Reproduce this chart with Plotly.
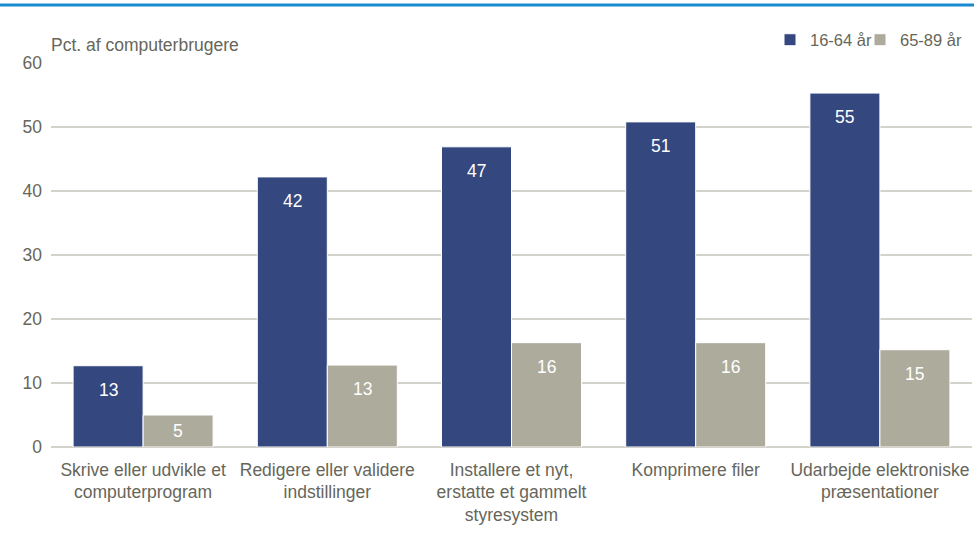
import plotly.graph_objects as go

categories = [
    "Skrive eller udvikle et<br>computerprogram",
    "Redigere eller validere<br>indstillinger",
    "Installere et nyt,<br>erstatte et gammelt<br>styresystem",
    "Komprimere filer",
    "Udarbejde elektroniske<br>præsentationer",
]
young = [12.7, 42.2, 46.9, 50.8, 55.3]
old = [5.0, 12.8, 16.3, 16.3, 15.2]
series_names = ["16-64 år", "65-89 år"]
colors = ["#34477E", "#ADAB9C"]
y_ticks = [0, 10, 20, 30, 40, 50, 60]

font_family = "Liberation Sans, Arial, sans-serif"
text_color = "#66665A"
FS = 17.5

L, R, T, B = 51, 2, 63, 93
W, H = 974, 540
ph = H - T - B
pw = W - L - R
px_per_unit = ph / 60.0
bar_px = pw / 5 * (1 - 0.24) / 2

legend_ids = ["legend", "legend2"]
legend_left_px = [770, 860]

fig = go.Figure()
annotations = []
for k, (name, vals, col) in enumerate(zip(series_names, [young, old], colors)):
    fig.add_trace(go.Bar(
        x=categories, y=vals, name=name, legend=legend_ids[k],
        marker=dict(color=col, line=dict(color="white", width=1)),
    ))
    for cat, v in zip(categories, vals):
        shift = min(24, v * px_per_unit / 2)
        annotations.append(dict(
            x=cat, y=v, xref="x", yref="y", text=f"{v:.0f}", showarrow=False,
            xshift=(-1 if k == 0 else 1) * bar_px / 2, yshift=-shift,
            xanchor="center", yanchor="middle",
            font=dict(color="white", size=FS, family=font_family)))

annotations.append(dict(text="Pct. af computerbrugere", xref="paper", yref="paper",
                        x=-2 / pw, y=(H - B - 45) / ph, xanchor="left", yanchor="middle",
                        showarrow=False, font=dict(size=FS, color=text_color)))

legend_common = dict(orientation="h", xanchor="left", y=(H - B - 40) / ph, yanchor="middle",
                     font=dict(size=16.5, color=text_color), itemwidth=30,
                     bgcolor="rgba(0,0,0,0)")

fig.update_layout(
    width=W, height=H,
    margin=dict(l=L, r=R, t=T, b=B),
    paper_bgcolor="white", plot_bgcolor="white",
    barmode="group", bargap=0.24, bargroupgap=0.0,
    font=dict(family=font_family, size=FS, color=text_color),
    showlegend=True,
    legend=dict(x=(legend_left_px[0] - L) / pw, **legend_common),
    legend2=dict(x=(legend_left_px[1] - L) / pw, **legend_common),
    xaxis=dict(showgrid=False, showline=False, ticks="", tickfont=dict(size=FS, color=text_color),
               tickangle=0, ticklabelstandoff=10),
    yaxis=dict(range=[0, 60], tickvals=y_ticks, showgrid=True, gridcolor="#D3D3CB", gridwidth=2,
               zeroline=True, zerolinecolor="#D3D3CB", zerolinewidth=2,
               showline=False, ticks="", ticklabelstandoff=8,
               tickfont=dict(size=FS, color=text_color)),
    annotations=annotations,
    shapes=[dict(type="line", xref="paper", yref="paper",
                 x0=-L / pw, x1=(W - L) / pw, y0=(H - B - 5) / ph, y1=(H - B - 5) / ph,
                 line=dict(color="#1A8AD0", width=3))],
)

fig.write_html("out.html", config={"displayModeBar": False},
               post_script="document.body.style.margin='0';document.body.style.overflow='hidden';")
